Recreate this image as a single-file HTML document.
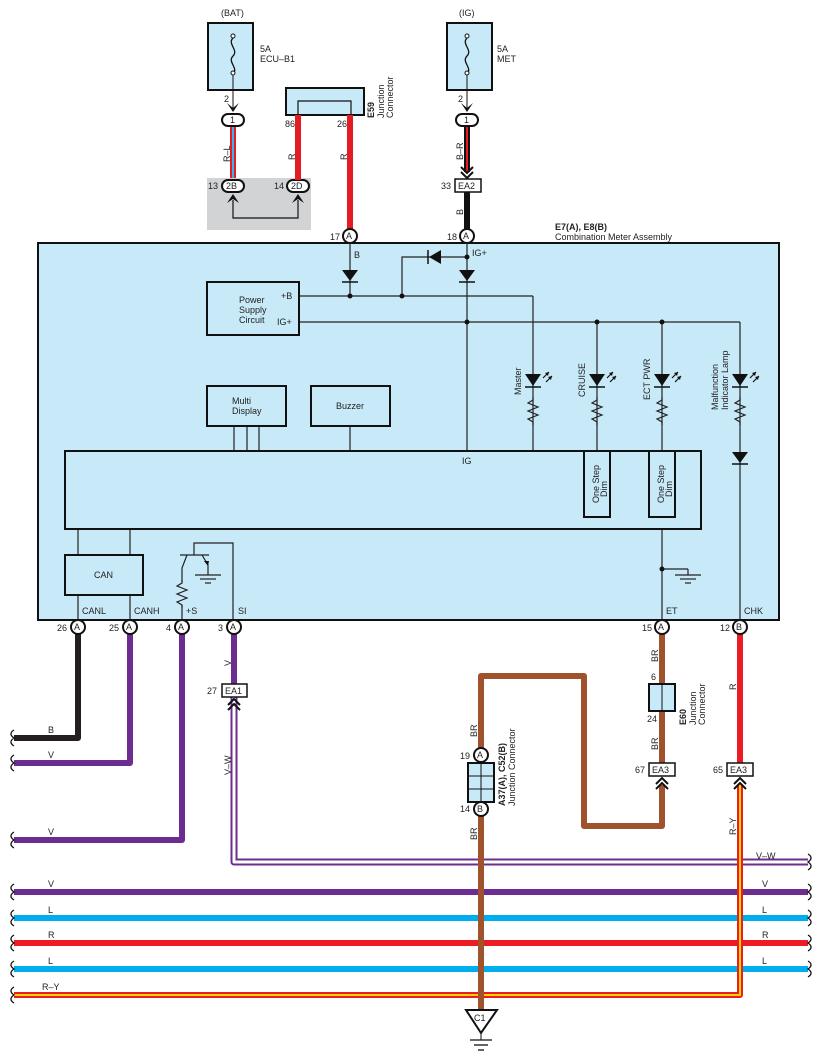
<!DOCTYPE html>
<html><head><meta charset="utf-8"><style>
html,body{margin:0;padding:0;background:#fff}
svg{display:block}
text{font-family:"Liberation Sans",sans-serif;font-size:9px;fill:#222}
</style></head><body>
<svg width="817" height="1063" viewBox="0 0 817 1063" xmlns="http://www.w3.org/2000/svg">
<defs>
<g id="led"><polygon points="-8,-6 8,-6 0,6" fill="#111"/><line x1="-8" y1="7" x2="8" y2="7" stroke="#111" stroke-width="1.5"/>
<path d="M10,-2 l6,-6 M13,2 l6,-6" stroke="#111" stroke-width="1.2"/><polygon points="16,-8 12,-7 15,-4" fill="#111"/><polygon points="19,-4 15,-3 18,0" fill="#111"/></g>
<g id="res"><polyline points="0,0 0,3 -5,6 5,10 -5,14 5,18 -5,22 0,25 0,28" fill="none" stroke="#222" stroke-width="1.2"/></g>
<g id="dd"><polygon points="-8,-6 8,-6 0,5" fill="#111"/><line x1="-8" y1="6" x2="8" y2="6" stroke="#111" stroke-width="1.5"/></g>
</defs>

<text x="221" y="16">(BAT)</text>
<rect x="208" y="23" width="45" height="67" fill="#c8eaf8" stroke="#111" stroke-width="2"/>
<path d="M233,38 c-6,6 6,12 0,18 c-6,6 6,12 0,18" fill="none" stroke="#111" stroke-width="1.3"/>
<circle cx="233" cy="36" r="2" fill="#fff" stroke="#111"/><circle cx="233" cy="73" r="2" fill="#fff" stroke="#111"/>
<text x="260" y="52">5A</text><text x="260" y="62">ECU–B1</text>
<line x1="233" y1="75" x2="233" y2="110" stroke="#111"/>
<polygon points="227,103 233,112 239,103 233,108" fill="#111"/>
<text x="224" y="102">2</text>
<rect x="222" y="114" width="22" height="12" rx="6" fill="#fff" stroke="#111" stroke-width="2"/><text x="230" y="123">1</text>
<line x1="233" y1="127" x2="233" y2="180" stroke="#e31c23" stroke-width="6"/><line x1="233" y1="127" x2="233" y2="180" stroke="#34b4e8" stroke-width="2"/>
<text x="0" y="0" transform="translate(230,162) rotate(-90)">R–L</text>

<rect x="207" y="178" width="104" height="52" fill="#d2d3d5"/>
<rect x="222" y="180" width="22" height="12" rx="6" fill="#fff" stroke="#111" stroke-width="2"/><text x="226" y="189">2B</text>
<rect x="287" y="180" width="22" height="12" rx="6" fill="#fff" stroke="#111" stroke-width="2"/><text x="291" y="189">2D</text>
<text x="208" y="189">13</text><text x="274" y="189">14</text>
<polygon points="227,203 233,194 239,203 233,199" fill="#111"/><polygon points="292,203 298,194 304,203 298,199" fill="#111"/>
<polyline points="233,200 233,218 298,218 298,200" fill="none" stroke="#111" stroke-width="1.2"/>

<rect x="286" y="88" width="78" height="27" fill="#c8eaf8" stroke="#111" stroke-width="2"/>
<polyline points="298,115 298,101 351,101 351,115" fill="none" stroke="#111" stroke-width="1.2"/>
<text x="285" y="127">86</text><text x="337" y="127">26</text>
<text transform="translate(374,118) rotate(-90)" font-weight="bold">E59</text>
<text transform="translate(384,118) rotate(-90)">Junction</text><text transform="translate(393,118) rotate(-90)">Connector</text>
<line x1="298" y1="115" x2="298" y2="180" stroke="#e31c23" stroke-width="6"/>
<line x1="350" y1="115" x2="350" y2="230" stroke="#e31c23" stroke-width="6"/>
<text transform="translate(295,160) rotate(-90)">R</text><text transform="translate(347,160) rotate(-90)">R</text>

<text x="459" y="16">(IG)</text>
<rect x="447" y="23" width="45" height="67" fill="#c8eaf8" stroke="#111" stroke-width="2"/>
<path d="M467,38 c-6,6 6,12 0,18 c-6,6 6,12 0,18" fill="none" stroke="#111" stroke-width="1.3"/>
<circle cx="467" cy="36" r="2" fill="#fff" stroke="#111"/><circle cx="467" cy="73" r="2" fill="#fff" stroke="#111"/>
<text x="497" y="52">5A</text><text x="497" y="62">MET</text>
<line x1="467" y1="75" x2="467" y2="110" stroke="#111"/>
<polygon points="461,103 467,112 473,103 467,108" fill="#111"/>
<text x="458" y="102">2</text>
<rect x="456" y="114" width="22" height="12" rx="6" fill="#fff" stroke="#111" stroke-width="2"/><text x="464" y="123">1</text>
<line x1="467" y1="127" x2="467" y2="172" stroke="#111" stroke-width="6"/><line x1="467" y1="127" x2="467" y2="172" stroke="#e31c23" stroke-width="2"/>
<polyline points="461,167 467,173 473,167" fill="none" stroke="#111" stroke-width="2"/><polyline points="461,172 467,178 473,172" fill="none" stroke="#111" stroke-width="2"/>
<text transform="translate(463,160) rotate(-90)">B–R</text>
<rect x="455" y="179" width="26" height="13" fill="#fff" stroke="#111" stroke-width="1.5"/><text x="458" y="189">EA2</text>
<text x="441" y="189">33</text>
<line x1="467" y1="192" x2="467" y2="230" stroke="#111" stroke-width="6"/>
<text transform="translate(463,215) rotate(-90)">B</text>

<text x="555" y="230" font-weight="bold">E7(A), E8(B)</text>
<text x="555" y="240">Combination Meter Assembly</text>

<rect x="38" y="243" width="741" height="377" fill="#c8eaf8" stroke="#111" stroke-width="2"/>
<circle cx="350" cy="236" r="7" fill="#fff" stroke="#111" stroke-width="2"/><text x="346" y="239">A</text><text x="330" y="240">17</text>
<circle cx="467" cy="236" r="7" fill="#fff" stroke="#111" stroke-width="2"/><text x="463" y="239">A</text><text x="447" y="240">18</text>
<g stroke="#222" stroke-width="1.2" fill="none">
<line x1="350" y1="243" x2="350" y2="296"/>
<line x1="299" y1="296" x2="533" y2="296"/>
<line x1="533" y1="296" x2="533" y2="451"/>
<line x1="299" y1="322" x2="740" y2="322"/>
<line x1="740" y1="322" x2="740" y2="620"/>
<polyline points="402,296 402,257 467,257"/>
<line x1="467" y1="243" x2="467" y2="451"/>
<line x1="597" y1="322" x2="597" y2="451"/>
<line x1="662" y1="322" x2="662" y2="451"/>
<line x1="662" y1="529" x2="662" y2="620"/>
<line x1="662" y1="569" x2="688" y2="569"/>
<line x1="234" y1="426" x2="234" y2="451"/><line x1="247" y1="426" x2="247" y2="451"/><line x1="259" y1="426" x2="259" y2="451"/>
<line x1="350" y1="426" x2="350" y2="451"/>
<line x1="78" y1="529" x2="78" y2="555"/><line x1="130" y1="529" x2="130" y2="555"/>
<line x1="78" y1="595" x2="78" y2="620"/><line x1="130" y1="595" x2="130" y2="620"/>
<polyline points="194,555 194,543 233,543 233,620"/>
<line x1="180" y1="555" x2="209" y2="555"/>
<polyline points="187,555 182,568 182,582"/><polyline points="202,555 208,565 208,575"/>
<line x1="195" y1="575" x2="221" y2="575"/><line x1="200" y1="579" x2="216" y2="579"/><line x1="205" y1="583" x2="211" y2="583"/>
<line x1="675" y1="575" x2="701" y2="575"/><line x1="680" y1="579" x2="696" y2="579"/><line x1="685" y1="583" x2="691" y2="583"/>
<line x1="688" y1="569" x2="688" y2="575"/>
<line x1="182" y1="605" x2="182" y2="620"/>
</g>
<polygon points="208,566 204,561 209,561" fill="#111"/>
<use href="#res" x="182" y="580"/>
<g fill="#111"><circle cx="350" cy="296" r="2.5"/><circle cx="402" cy="296" r="2.5"/><circle cx="467" cy="257" r="2.5"/><circle cx="467" cy="322" r="2.5"/><circle cx="597" cy="322" r="2.5"/><circle cx="662" cy="322" r="2.5"/><circle cx="662" cy="569" r="2.5"/></g>
<use href="#dd" x="350" y="276"/><use href="#dd" x="467" y="276"/>
<polygon points="429,257 441,250 441,264" fill="#111"/><line x1="428" y1="250" x2="428" y2="264" stroke="#111" stroke-width="1.5"/>
<text x="354" y="258">B</text><text x="472" y="256">IG+</text>
<use href="#led" x="533" y="380"/><use href="#led" x="597" y="380"/><use href="#led" x="662" y="380"/><use href="#led" x="740" y="380"/>
<use href="#res" x="533" y="397"/><use href="#res" x="597" y="397"/><use href="#res" x="662" y="397"/><use href="#res" x="740" y="397"/>
<use href="#dd" x="740" y="458"/>
<text transform="translate(521,395) rotate(-90)">Master</text>
<text transform="translate(585,397) rotate(-90)">CRUISE</text>
<text transform="translate(650,400) rotate(-90)">ECT PWR</text>
<text transform="translate(718,410) rotate(-90)">Malfunction</text><text transform="translate(728,410) rotate(-90)">Indicator Lamp</text>

<rect x="207" y="282" width="92" height="53" fill="none" stroke="#111" stroke-width="2"/>
<text x="239" y="303">Power</text><text x="239" y="313">Supply</text><text x="239" y="323">Circuit</text>
<text x="281" y="299">+B</text><text x="277" y="325">IG+</text>
<rect x="207" y="386" width="79" height="40" fill="none" stroke="#111" stroke-width="2"/>
<text x="232" y="404">Multi</text><text x="232" y="414">Display</text>
<rect x="311" y="386" width="79" height="40" fill="none" stroke="#111" stroke-width="2"/>
<text x="336" y="409">Buzzer</text>
<rect x="65" y="451" width="636" height="78" fill="none" stroke="#111" stroke-width="2"/>
<text x="462" y="464">IG</text>
<rect x="584" y="451" width="26" height="66" fill="none" stroke="#111" stroke-width="2"/>
<rect x="649" y="451" width="26" height="66" fill="none" stroke="#111" stroke-width="2"/>
<text transform="translate(599,503) rotate(-90)">One Step</text><text transform="translate(607,497) rotate(-90)">Dim</text>
<text transform="translate(664,503) rotate(-90)">One Step</text><text transform="translate(672,497) rotate(-90)">Dim</text>
<rect x="65" y="555" width="78" height="40" fill="none" stroke="#111" stroke-width="2"/>
<text x="94" y="578">CAN</text>
<text x="82" y="614">CANL</text><text x="134" y="614">CANH</text><text x="186" y="614">+S</text><text x="238" y="614">SI</text>
<text x="666" y="614">ET</text><text x="744" y="614">CHK</text>

<g fill="none" stroke-linejoin="round">
<polyline points="78,634 78,738 14,738" stroke="#231f20" stroke-width="6"/>
<polyline points="130,634 130,763 14,763" stroke="#6d2c8f" stroke-width="6"/>
<polyline points="182,634 182,840 14,840" stroke="#6d2c8f" stroke-width="6"/>
<line x1="234" y1="634" x2="234" y2="684" stroke="#6d2c8f" stroke-width="6"/>
<polyline points="234,697 234,862 808,862" stroke="#6d2c8f" stroke-width="7"/>
<polyline points="234,697 234,862 808,862" stroke="#fff" stroke-width="3"/>
<line x1="14" y1="892" x2="808" y2="892" stroke="#6d2c8f" stroke-width="6"/>
<line x1="14" y1="918" x2="808" y2="918" stroke="#00aeef" stroke-width="6"/>
<line x1="14" y1="943" x2="808" y2="943" stroke="#ed1c24" stroke-width="6"/>
<line x1="14" y1="969" x2="808" y2="969" stroke="#00aeef" stroke-width="6"/>
<polyline points="14,995 740,995 740,785" stroke="#ed1c24" stroke-width="6"/>
<polyline points="14,995 740,995 740,785" stroke="#ffd400" stroke-width="2"/>
<line x1="740" y1="634" x2="740" y2="763" stroke="#ed1c24" stroke-width="6"/>
<polyline points="481,1010 481,676 584,676 584,826 662,826 662,785" stroke="#a0522d" stroke-width="6"/>
<line x1="662" y1="634" x2="662" y2="763" stroke="#a0522d" stroke-width="6"/>
</g>
<g fill="none" stroke="#111" stroke-width="1.3">
<path d="M14,730 c-5,3 -3,6 0,8 c-3,2 -5,5 0,8 M14,755 c-5,3 -3,6 0,8 c-3,2 -5,5 0,8 M14,832 c-5,3 -3,6 0,8 c-3,2 -5,5 0,8 M14,884 c-5,3 -3,6 0,8 c-3,2 -5,5 0,8 M14,910 c-5,3 -3,6 0,8 c-3,2 -5,5 0,8 M14,935 c-5,3 -3,6 0,8 c-3,2 -5,5 0,8 M14,961 c-5,3 -3,6 0,8 c-3,2 -5,5 0,8 M14,987 c-5,3 -3,6 0,8 c-3,2 -5,5 0,8"/>
<path d="M808,854 c5,3 3,6 0,8 c3,2 5,5 0,8 M808,884 c5,3 3,6 0,8 c3,2 5,5 0,8 M808,910 c5,3 3,6 0,8 c3,2 5,5 0,8 M808,935 c5,3 3,6 0,8 c3,2 5,5 0,8 M808,961 c5,3 3,6 0,8 c3,2 5,5 0,8"/>
</g>
<g font-size="8.5">
<text x="48" y="733">B</text><text x="48" y="758">V</text><text x="48" y="835">V</text>
<text x="48" y="887">V</text><text x="48" y="913">L</text><text x="48" y="938">R</text><text x="48" y="964">L</text><text x="42" y="990">R–Y</text>
<text x="756" y="859">V–W</text><text x="762" y="887">V</text><text x="762" y="913">L</text><text x="762" y="938">R</text><text x="762" y="964">L</text>
</g>
<g>
<circle cx="78" cy="627" r="7" fill="#fff" stroke="#111" stroke-width="2"/><text x="74" y="630">A</text><text x="57" y="631">26</text>
<circle cx="130" cy="627" r="7" fill="#fff" stroke="#111" stroke-width="2"/><text x="126" y="630">A</text><text x="109" y="631">25</text>
<circle cx="182" cy="627" r="7" fill="#fff" stroke="#111" stroke-width="2"/><text x="178" y="630">A</text><text x="166" y="631">4</text>
<circle cx="234" cy="627" r="7" fill="#fff" stroke="#111" stroke-width="2"/><text x="230" y="630">A</text><text x="218" y="631">3</text>
<circle cx="662" cy="627" r="7" fill="#fff" stroke="#111" stroke-width="2"/><text x="658" y="630">A</text><text x="642" y="631">15</text>
<circle cx="740" cy="627" r="7" fill="#fff" stroke="#111" stroke-width="2"/><text x="736" y="630">B</text><text x="720" y="631">12</text>
</g>
<rect x="222" y="684" width="25" height="13" fill="#fff" stroke="#111" stroke-width="1.5"/><text x="225" y="694">EA1</text><text x="207" y="694">27</text>
<polyline points="228,705 234,699 240,705" fill="none" stroke="#111" stroke-width="2"/><polyline points="228,710 234,704 240,710" fill="none" stroke="#111" stroke-width="2"/>
<text transform="translate(231,666) rotate(-90)">V</text><text transform="translate(231,775) rotate(-90)">V–W</text>

<rect x="649" y="684" width="26" height="27" fill="#c8eaf8" stroke="#111" stroke-width="2"/><line x1="662" y1="684" x2="662" y2="711" stroke="#111"/>
<text x="651" y="680">6</text><text x="647" y="722">24</text>
<text transform="translate(686,725) rotate(-90)" font-weight="bold">E60</text><text transform="translate(696,725) rotate(-90)">Junction</text><text transform="translate(705,725) rotate(-90)">Connector</text>
<text transform="translate(658,662) rotate(-90)">BR</text><text transform="translate(658,750) rotate(-90)">BR</text>
<rect x="649" y="763" width="26" height="13" fill="#fff" stroke="#111" stroke-width="1.5"/><text x="652" y="773">EA3</text><text x="635" y="773">67</text>
<polyline points="656,784 662,778 668,784" fill="none" stroke="#111" stroke-width="2"/><polyline points="656,789 662,783 668,789" fill="none" stroke="#111" stroke-width="2"/>
<rect x="727" y="763" width="26" height="13" fill="#fff" stroke="#111" stroke-width="1.5"/><text x="730" y="773">EA3</text><text x="713" y="773">65</text>
<polyline points="734,784 740,778 746,784" fill="none" stroke="#111" stroke-width="2"/><polyline points="734,789 740,783 746,789" fill="none" stroke="#111" stroke-width="2"/>
<text transform="translate(736,690) rotate(-90)">R</text><text transform="translate(736,835) rotate(-90)">R–Y</text>

<circle cx="481" cy="755" r="7" fill="#fff" stroke="#111" stroke-width="2"/><text x="477" y="758">A</text><text x="460" y="759">19</text>
<rect x="468" y="763" width="26" height="39" fill="#c8eaf8" stroke="#111" stroke-width="2"/>
<line x1="481" y1="763" x2="481" y2="802" stroke="#111"/><line x1="468" y1="776" x2="494" y2="776" stroke="#111"/><line x1="468" y1="789" x2="494" y2="789" stroke="#111"/>
<circle cx="481" cy="809" r="7" fill="#fff" stroke="#111" stroke-width="2"/><text x="477" y="812">B</text><text x="460" y="812">14</text>
<text transform="translate(505,806) rotate(-90)" font-weight="bold">A37(A), C52(B)</text><text transform="translate(515,806) rotate(-90)">Junction Connector</text>
<text transform="translate(477,737) rotate(-90)">BR</text><text transform="translate(477,840) rotate(-90)">BR</text>
<polygon points="466,1010 497,1010 481,1033" fill="#fff" stroke="#111" stroke-width="2"/><text x="474" y="1021">C1</text>
<line x1="481" y1="1033" x2="481" y2="1040" stroke="#111"/>
<line x1="470" y1="1040" x2="492" y2="1040" stroke="#111" stroke-width="1.3"/><line x1="474" y1="1045" x2="488" y2="1045" stroke="#111" stroke-width="1.3"/><line x1="478" y1="1050" x2="484" y2="1050" stroke="#111" stroke-width="1.3"/>
</svg>
</body></html>
